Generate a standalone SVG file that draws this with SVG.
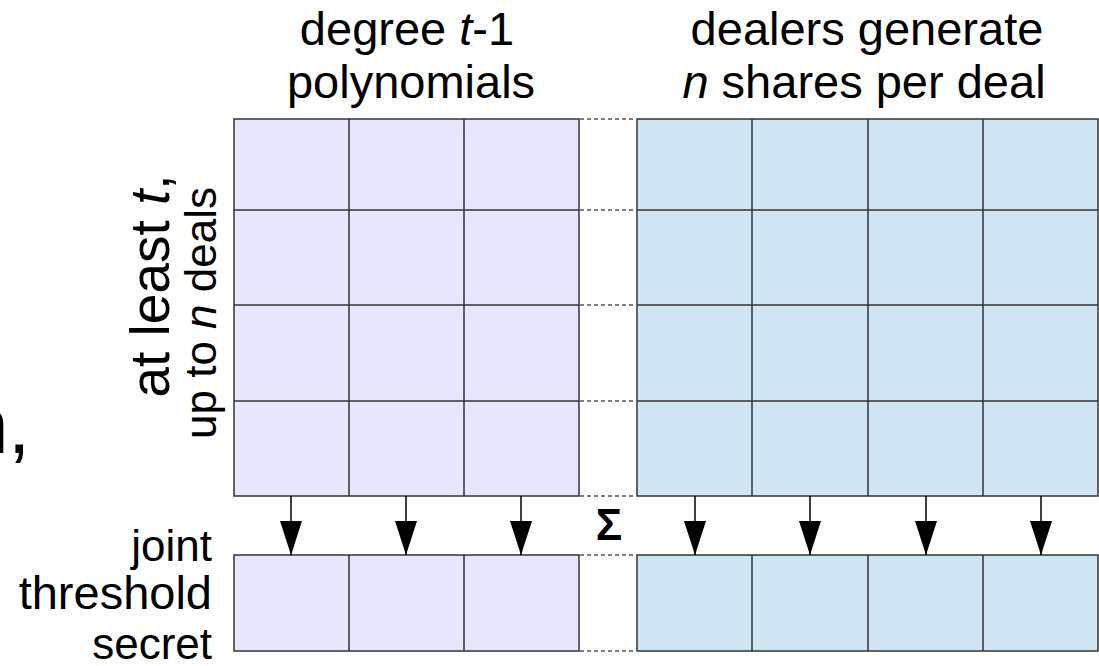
<svg xmlns="http://www.w3.org/2000/svg" width="1099" height="666" viewBox="0 0 1099 666">
<style>
text{font-family:"Liberation Sans",Arial,sans-serif;font-size:44px;fill:#000}
.t{font-size:47px}
.l{fill:#e6e6ff;stroke:#333;stroke-width:1.5}
.r{fill:#cfe5f3;stroke:#333;stroke-width:1.5}
.g{stroke:#333;stroke-width:1.5;fill:none}
.d{stroke:#555;stroke-width:1.5;stroke-dasharray:4 3;fill:none}
.a{stroke:#000;stroke-width:1.5;fill:none}
</style>
<defs>
<marker id="ah" markerWidth="34" markerHeight="22" refX="34" refY="11" orient="auto" markerUnits="userSpaceOnUse" viewBox="0 0 34 22">
<path d="M0,0 L34,11 L0,22 Z" fill="#000"/>
</marker>
</defs>
<rect width="1099" height="666" fill="#fff"/>
<text x="-36" y="453" style="font-size:80px">n<tspan x="8">,</tspan></text>
<g id="title-left"><text class="t" x="407" y="45" text-anchor="middle">degree <tspan font-style="italic">t</tspan>-1</text><text class="t" x="411" y="98" text-anchor="middle">polynomials</text></g>
<g id="title-right"><text class="t" x="867" y="45" text-anchor="middle">dealers generate</text><text class="t" x="864" y="98" text-anchor="middle"><tspan font-style="italic">n</tspan> shares per deal</text></g>
<g id="label-rows"><text transform="translate(169,286) rotate(-90)" text-anchor="middle" style="font-size:55px">at least <tspan font-style="italic">t</tspan>,</text><text transform="translate(216,313) rotate(-90)" text-anchor="middle">up to <tspan font-style="italic">n</tspan> deals</text></g>
<g id="label-secret"><text x="212" y="561" text-anchor="end">joint</text><text x="212" y="609" text-anchor="end" style="font-size:47px">threshold</text><text x="212" y="659" text-anchor="end">secret</text></g>
<g id="grid-left">
<rect class="l" x="234" y="119" width="345" height="377"/>
<path class="g" d="M349,119V496M464,119V496M234,210H579M234,305H579M234,401H579"/>
</g>
<g id="grid-right">
<rect class="r" x="637" y="119" width="461" height="377"/>
<path class="g" d="M752,119V496M868,119V496M983,119V496M637,210H1098M637,305H1098M637,401H1098"/>
</g>
<g id="secret-left">
<rect class="l" x="234" y="555" width="345" height="96"/>
<path class="g" d="M349,555V651M464,555V651"/>
</g>
<g id="secret-right">
<rect class="r" x="637" y="555" width="461" height="96"/>
<path class="g" d="M752,555V651M868,555V651M983,555V651"/>
</g>
<g id="sigma"><text x="609" y="540" text-anchor="middle" style="font-weight:bold;font-size:44px">Σ</text></g>
<g id="connectors">
<path class="d" d="M580,119H636M580,210H636M580,305H636M580,401H636M580,496H636M580,555H636M580,651H636"/>
<path class="a" marker-end="url(#ah)" d="M291,496V555"/>
<path class="a" marker-end="url(#ah)" d="M406,496V555"/>
<path class="a" marker-end="url(#ah)" d="M521,496V555"/>
<path class="a" marker-end="url(#ah)" d="M695,496V555"/>
<path class="a" marker-end="url(#ah)" d="M810,496V555"/>
<path class="a" marker-end="url(#ah)" d="M926,496V555"/>
<path class="a" marker-end="url(#ah)" d="M1041,496V555"/>
</g>
</svg>
